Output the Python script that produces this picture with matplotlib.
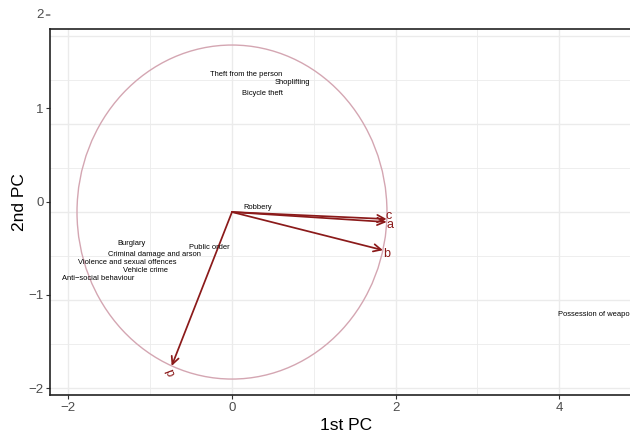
import numpy as np
import matplotlib.pyplot as plt
from matplotlib.patches import Ellipse

plt.rcParams['font.family'] = ['Liberation Sans', 'DejaVu Sans']

# ── crime type labels (PC scores) ──
crimes = ["Theft from the person", "Shoplifting", "Bicycle theft", "Robbery",
          "Burglary", "Public order", "Criminal damage and arson",
          "Violence and sexual offences", "Vehicle crime",
          "Anti\u2212social behaviour", "Possession of weapons"]
pc1 = [0.177, 0.739, 0.373, 0.318, -1.228, -0.275, -0.947, -1.277, -1.063, -1.638, 4.467]
pc2 = [1.367, 1.271, 1.153, -0.059, -0.445, -0.488, -0.563, -0.649, -0.735, -0.831, -1.217]

# ── loading arrows ──
arrow_names = ["c", "a", "b", "d"]
origin = (0.0, -0.113)
tip_x = [1.890, 1.890, 1.845, -0.737]
tip_y = [-0.188, -0.220, -0.522, -1.764]
lab_x = [1.919, 1.931, 1.887, -0.737]
lab_y = [-0.155, -0.252, -0.563, -1.823]
lab_rot = [0, 0, 0, 111]

# correlation circle (as drawn)
circ_rx, circ_ry = 1.894, 1.791

# grid positions
grid_x = [-2, -1, 0, 1, 2, 3, 4]
grid_y = [-2.0, -1.528, -1.057, -0.585, -0.113, 0.358, 0.830, 1.301, 1.773]

fig = plt.figure(figsize=(6.3, 4.34), dpi=100)
ax = fig.add_axes([50/630, 1 - 395/434, 1 - 50/630, (395 - 29)/434])
ax.set_xlim(-2.224, 4.864)
ax.set_ylim(-2.075, 1.850)

for g in grid_x:
    ax.axvline(g, color="#ebebeb", lw=1.0 if g % 2 == 0 else 0.6, zorder=0)
for i, g in enumerate(grid_y):
    ax.axhline(g, color="#ebebeb", lw=1.0 if i % 2 == 0 else 0.6, zorder=0)

ax.add_patch(Ellipse(origin, 2*circ_rx, 2*circ_ry, fill=False,
                     edgecolor="#d4a6b2", lw=1.0, zorder=1))

red = "#8b1a1a"
for n, tx, ty, lx, ly, r in zip(arrow_names, tip_x, tip_y, lab_x, lab_y, lab_rot):
    ax.annotate("", xy=(tx, ty), xytext=origin,
                arrowprops=dict(arrowstyle="->,head_length=0.45,head_width=0.22",
                                color=red, lw=1.25, shrinkA=0, shrinkB=0,
                                mutation_scale=12), zorder=3)
    ax.text(lx, ly, n, color=red, fontsize=9, ha="center", va="center",
            rotation=r, zorder=4)

for name, x, y in zip(crimes, pc1, pc2):
    ax.text(x, y, name, fontsize=5.4, ha="center", va="center",
            color="black", clip_on=True, zorder=5)

ax.set_xticks([-2, 0, 2, 4])
ax.set_yticks([-2, -1, 0, 1])
ax.tick_params(colors="#333333", labelcolor="#4d4d4d", labelsize=9.5,
               length=2.7, width=0.8, pad=2)
# the "2" tick sits above the panel
ax.annotate("", xy=(0, 2), xycoords=("axes fraction", "data"),
            xytext=(-2.7, 0), textcoords="offset points",
            arrowprops=dict(arrowstyle="-", color="#333333", lw=0.8,
                            shrinkA=0, shrinkB=0), annotation_clip=False)
ax.annotate("2", xy=(0, 2), xycoords=("axes fraction", "data"),
            xytext=(-4.7, 0), textcoords="offset points", ha="right",
            va="center", fontsize=9.5, color="#4d4d4d", annotation_clip=False)

for s in ["left", "bottom", "top"]:
    ax.spines[s].set_color("#222222")
    ax.spines[s].set_linewidth(1.2)
ax.spines["right"].set_visible(False)

ax.set_xlabel("1st PC", fontsize=12.5)
ax.set_ylabel("2nd PC", fontsize=12.5)
ax.xaxis.set_label_coords(0.510, -0.062)
ax.yaxis.set_label_coords(-0.040, 0.527)

fig.savefig("out.png", dpi=100)
